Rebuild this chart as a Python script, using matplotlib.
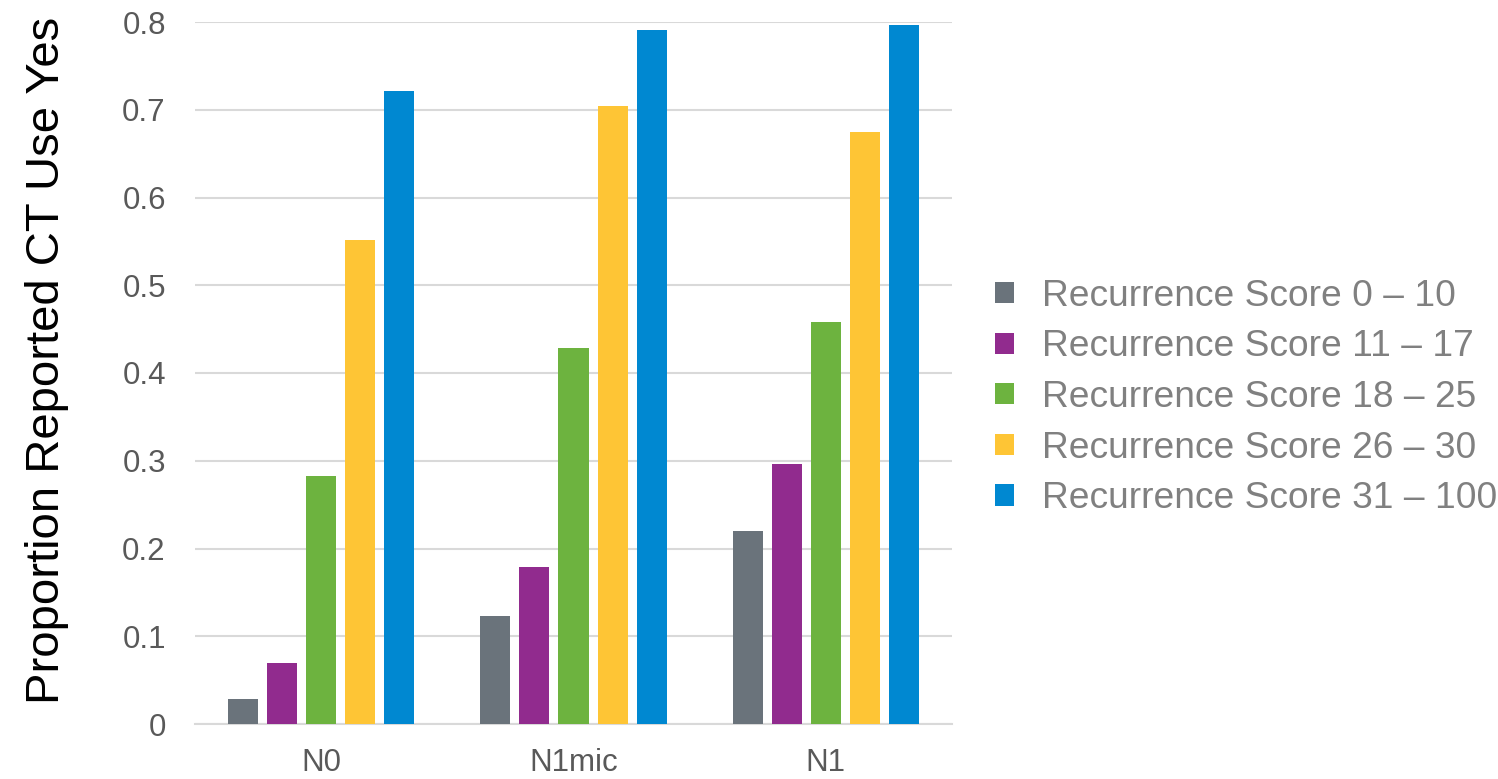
import matplotlib
matplotlib.use("Agg")
import matplotlib.pyplot as plt
import numpy as np

plt.rcParams['font.family'] = ['Liberation Sans', 'DejaVu Sans']

categories = ["N0", "N1mic", "N1"]
series_labels = ["Recurrence Score 0 \u2013 10", "Recurrence Score 11 \u2013 17",
                 "Recurrence Score 18 \u2013 25", "Recurrence Score 26 \u2013 30",
                 "Recurrence Score 31 \u2013 100"]
values = [
    [0.028, 0.123, 0.220],
    [0.069, 0.179, 0.296],
    [0.283, 0.428, 0.458],
    [0.551, 0.704, 0.675],
    [0.721, 0.791, 0.797],
]
colors = ["#6A737B", "#912B8E", "#6DB33F", "#FEC535", "#0088D1"]
yticks = [0, 0.1, 0.2, 0.3, 0.4, 0.5, 0.6, 0.7, 0.8]
ytick_labels = ["0", "0.1", "0.2", "0.3", "0.4", "0.5", "0.6", "0.7", "0.8"]

fig = plt.figure(figsize=(14.98, 7.79), dpi=100)
ax = fig.add_axes([195/1498, 1-724/779, (952-195)/1498, (724-22)/779])

x = np.arange(len(categories))
step = 0.155
width = 0.119
for i, (vals, col, lab) in enumerate(zip(values, colors, series_labels)):
    ax.bar(x + (i - 2) * step, vals, width, color=col, label=lab, zorder=3)

ax.set_xlim(-0.5, 2.5)
ax.set_ylim(0, 0.8)
ax.set_yticks(yticks)
ax.set_yticklabels(ytick_labels)
ax.set_xticks(x)
ax.set_xticklabels(categories)
ax.grid(axis='y', color='#D9D9D9', linewidth=1.5, zorder=0)
for s in ['top', 'right', 'left']:
    ax.spines[s].set_visible(False)
ax.spines['bottom'].set_color('#D9D9D9')
ax.spines['bottom'].set_linewidth(1.5)
ax.tick_params(axis='both', length=0, labelsize=22.5, colors='#595959')
ax.tick_params(axis='y', pad=21)
ax.tick_params(axis='x', pad=17)
ax.set_ylabel("Proportion Reported CT Use Yes", fontsize=34, color='black')
ax.yaxis.set_label_coords(-0.167, 0.518)

leg = ax.legend(loc='center left', bbox_to_anchor=(1.013, 0.465), frameon=False,
                fontsize=26.7, handlelength=0.5, handleheight=0.5, handletextpad=0.75,
                labelspacing=0.42, labelcolor='#808080')
fig.savefig("out.png", dpi=100)
